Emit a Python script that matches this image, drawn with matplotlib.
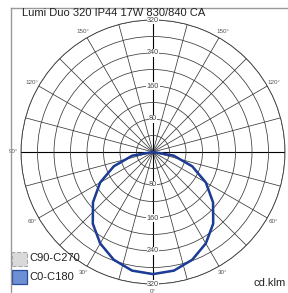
import numpy as np
import matplotlib
matplotlib.use("Agg")
import matplotlib.pyplot as plt
from matplotlib.patches import Rectangle
from matplotlib.lines import Line2D

plt.rcParams['font.family'] = ['Liberation Sans', 'DejaVu Sans']

title = "Lumi Duo 320 IP44 17W 830/840 CA"
unit_label = "cd.klm"
series_names = ["C90-C270", "C0-C180"]

# gamma angles (deg) and intensities (cd/klm), symmetric about 0°
gamma_deg = [0, 10, 20, 30, 40, 50, 60, 70, 80, 90]
c0_c180 = [296, 292, 278, 256, 227, 190, 148, 101, 51, 0]
c90_c270 = [296, 292, 278, 256, 227, 190, 148, 101, 51, 0]

ring_values = [40, 80, 120, 160, 200, 240, 280, 320]
ring_labels = [80, 160, 240, 320]
angle_labels = [0, 30, 60, 90, 120, 150]

W, H = 288, 293
fig = plt.figure(figsize=(W / 100, H / 100), dpi=100)
cx, cy, R = 153, 152, 132
ax = fig.add_axes([(cx - R) / W, (H - cy - R) / H, 2 * R / W, 2 * R / H], projection='polar')
ax.set_theta_zero_location('S')
ax.set_ylim(0, 320)
ax.set_facecolor('none')
ax.set_rgrids(ring_values, labels=[''] * len(ring_values))
tg = np.arange(0, 360, 15)
ax.set_thetagrids(tg, labels=[''] * len(tg))
ax.grid(True, color='#3a3a3a', lw=0.55)
for ang, gl in zip(tg, ax.xaxis.get_gridlines()):
    if ang % 90 == 0:
        gl.set_color('#000000')
        gl.set_linewidth(0.8)
ax.spines['polar'].set_color('#3a3a3a')
ax.spines['polar'].set_linewidth(0.6)
ax.tick_params(length=0)

def full_curve(vals):
    th = [-g for g in gamma_deg[::-1]] + gamma_deg[1:]
    r = vals[::-1] + vals[1:]
    return np.radians(th), np.array(r)

th, r = full_curve(c90_c270)
ax.plot(th, r, color='#b0b0b0', lw=1.4, ls='--', zorder=3)
th, r = full_curve(c0_c180)
ax.plot(th, r, color='#1d3c96', lw=1.8, zorder=4)

for v in ring_labels:
    for t in (0, np.pi):
        ax.text(t, v, str(v), fontsize=5.2, color='#444444', ha='center', va='center',
                bbox=dict(facecolor='white', edgecolor='none', pad=0.3), zorder=5)

for a in angle_labels:
    sides = [-a] if a in (0, 90) else [-a, a]
    for s in sides:
        ax.text(np.radians(s), 338, f"{a}°", fontsize=4.5, color='#555555',
                ha='center', va='center', zorder=5)

# frame
fig.add_artist(Line2D([10.5 / W, 10.5 / W], [0, 1 - 8 / H], color='#999999', lw=1.0))
fig.add_artist(Line2D([10.5 / W, 1], [1 - 8 / H, 1 - 8 / H], color='#999999', lw=1.0))

fig.text(22 / W, 1 - 13.5 / H, title, fontsize=8, color='#222222', ha='left', va='center', zorder=10)

# legend
fig.add_artist(Rectangle((12 / W, 1 - 266 / H), 15 / W, 14 / H, transform=fig.transFigure,
                         facecolor='#d9d9d9', edgecolor='#a8a8a8', ls='--', lw=0.8))
fig.add_artist(Rectangle((12 / W, 1 - 284 / H), 15 / W, 14 / H, transform=fig.transFigure,
                         facecolor='#6d8fd3', edgecolor='#2a4a9a', lw=0.9))
fig.text(29 / W, 1 - 258 / H, series_names[0], fontsize=8, color='#222222', ha='left', va='center')
fig.text(29 / W, 1 - 277.5 / H, series_names[1], fontsize=8, color='#222222', ha='left', va='center')
fig.text(286 / W, 1 - 283 / H, unit_label, fontsize=8, color='#222222', ha='right', va='center')

fig.savefig('out.png', dpi=100, facecolor='white')
